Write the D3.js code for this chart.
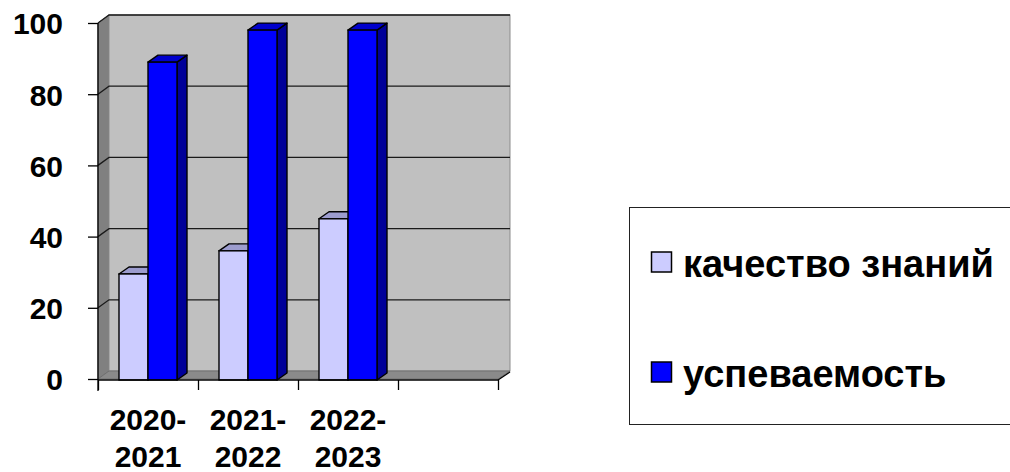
<!doctype html>
<html lang="ru">
<head>
<meta charset="UTF-8">
<title>качество знаний / успеваемость</title>
<script src="https://d3js.org/d3.v7.min.js"></script>
<style>
body { margin: 0; background: #fff; font-family: "Liberation Sans", Arial, sans-serif; }
svg { display: block; }
.axis text { font-family: "Liberation Sans", Arial, sans-serif; font-weight: bold; font-size: 30px; fill: #000; }
.axis line { stroke: #000; stroke-width: 1.3; }
.axis path { display: none; }
</style>
</head>
<body>
<div id="plot"></div>
<script>

// chart data
var categories = ["2020-2021", "2021-2022", "2022-2023", ""];
var catLines = [["2020-", "2021"], ["2021-", "2022"], ["2022-", "2023"], []];
var quality = [29.5, 36, 45];      // качество знаний
var progress = [89, 98, 98];       // успеваемость
var seriesNames = ["качество знаний", "успеваемость"];
var yTicks = [0, 20, 40, 60, 80, 100];

var width = 1010;
var height = 472;

var plotLeft = 98, plotRight = 498, plotBottom = 379, plotTop = 23;
var wdx = 11, wdy = -8;   // depth of the walls
var bdx = 10, bdy = -7;   // depth of the bars

var svg = d3.select("#plot").append("svg")
	.attr("width", width)
	.attr("height", height);

var xScale = d3.scaleBand().domain(categories).range([plotLeft, plotRight]);
var xSeries = d3.scaleBand().domain(seriesNames)
	.range([xScale.bandwidth() * 0.21, xScale.bandwidth() * 0.79]);
var yScale = d3.scaleLinear().domain([0, 100]).range([plotBottom, plotTop]);

var colors = {
	"качество знаний": { front: "#ccccff", top: "#9c9cce", side: "#9999cc" },
	"успеваемость": { front: "#0000ff", top: "#0000cc", side: "#000099" }
};

function poly(pts) {
	return "M" + pts.map(function (p) { return p[0] + "," + p[1]; }).join("L") + "Z";
}

// walls and floor
svg.append("path")
	.attr("d", poly([[plotLeft, yScale(0)], [plotLeft, yScale(100)], [plotLeft + wdx, yScale(100) + wdy], [plotLeft + wdx, yScale(0) + wdy]]))
	.style("fill", "#808080").style("stroke", "#707070");

svg.append("rect")
	.attr("x", plotLeft + wdx)
	.attr("y", yScale(100) + wdy)
	.attr("width", plotRight + wdx + 1 - (plotLeft + wdx))
	.attr("height", yScale(0) - yScale(100))
	.style("fill", "#c0c0c0").style("stroke", "#8c8c8c");

svg.append("path")
	.attr("d", poly([[plotLeft, yScale(0)], [plotRight, yScale(0)], [plotRight + wdx + 1, yScale(0) + wdy], [plotLeft + wdx, yScale(0) + wdy]]))
	.style("fill", "#8a8a8a").style("stroke", "#707070");

// gridlines
yTicks.filter(function (v) { return v > 0; }).forEach(function (v) {
	var y = yScale(v);
	svg.append("path")
		.attr("d", "M" + plotLeft + "," + y + "L" + (plotLeft + wdx) + "," + (y + wdy) + "L" + (plotRight + wdx + 1) + "," + (y + wdy))
		.style("fill", "none").style("stroke", "#1a1a1a").style("stroke-width", 1.3);
});

// bars
var bars = [];
categories.forEach(function (c, i) {
	if (i < quality.length) {
		bars.push({ cat: c, name: seriesNames[0], value: quality[i] });
		bars.push({ cat: c, name: seriesNames[1], value: progress[i] });
	}
});

var barG = svg.selectAll("g.bar").data(bars).enter().append("g").attr("class", "bar");

barG.each(function (d) {
	var g = d3.select(this);
	var x0 = xScale(d.cat) + xSeries(d.name);
	var x1 = x0 + xSeries.bandwidth();
	var y0 = yScale(0) + 1;
	var y1 = yScale(d.value);
	var col = colors[d.name];
	g.append("path")
		.attr("d", poly([[x1, y0], [x1, y1], [x1 + bdx, y1 + bdy], [x1 + bdx, y0 + bdy]]))
		.style("fill", col.side).style("stroke", "#000").style("stroke-width", 1.4).style("stroke-linejoin", "round");
	g.append("path")
		.attr("d", poly([[x0, y1], [x1, y1], [x1 + bdx, y1 + bdy], [x0 + bdx, y1 + bdy]]))
		.style("fill", col.top).style("stroke", "#000").style("stroke-width", 1.4).style("stroke-linejoin", "round");
	g.append("rect")
		.attr("x", x0).attr("y", y1)
		.attr("width", x1 - x0).attr("height", y0 - y1)
		.style("fill", col.front).style("stroke", "#000").style("stroke-width", 1.4);
});

// y axis
var yAxis = d3.axisLeft(yScale).tickValues(yTicks).tickSize(10).tickSizeOuter(0).tickPadding(25);
svg.append("g")
	.attr("class", "axis")
	.attr("transform", "translate(" + plotLeft + ",0)")
	.call(yAxis)
	.selectAll("text").attr("dy", "0.36em");

svg.append("line")
	.attr("x1", plotLeft).attr("x2", plotLeft)
	.attr("y1", yScale(100)).attr("y2", yScale(0) + 12)
	.style("stroke", "#000").style("stroke-width", 1.3);

// x axis: ticks at category boundaries
var xEdges = d3.scaleLinear().domain([0, categories.length]).range([plotLeft, plotRight]);
var xAxis = d3.axisBottom(xEdges).ticks(categories.length).tickFormat("").tickSize(10).tickSizeOuter(0);
svg.append("g")
	.attr("class", "axis")
	.attr("transform", "translate(0," + (yScale(0) + 1) + ")")
	.call(xAxis);

svg.append("line")
	.attr("x1", plotLeft).attr("x2", plotRight)
	.attr("y1", yScale(0) + 1).attr("y2", yScale(0) + 1)
	.style("stroke", "#000").style("stroke-width", 1.3);

svg.append("line")
	.attr("x1", plotRight).attr("x2", plotRight + wdx + 1)
	.attr("y1", yScale(0) + 1).attr("y2", yScale(0) + 1 + wdy)
	.style("stroke", "#000").style("stroke-width", 1.3);

// category labels
var labels = svg.selectAll("text.cat").data(categories).enter().append("text")
	.attr("class", "cat")
	.attr("text-anchor", "middle")
	.style("font-family", "'Liberation Sans', Arial, sans-serif")
	.style("font-weight", "bold")
	.style("font-size", "30px");

labels.each(function (d, i) {
	var t = d3.select(this);
	var cx = xScale(d) + xScale.bandwidth() / 2;
	catLines[i].forEach(function (line, j) {
		t.append("tspan")
			.attr("x", cx)
			.attr("y", 430 + j * 37)
			.text(line);
	});
});

// legend
var legend = svg.append("g");
legend.append("rect")
	.attr("x", 629.5).attr("y", 207.5)
	.attr("width", 420).attr("height", 217)
	.style("fill", "#fff").style("stroke", "#222").style("stroke-width", 1);

var legendY = d3.scaleOrdinal().domain(seriesNames).range([277, 387]);

seriesNames.forEach(function (name) {
	var by = legendY(name);
	legend.append("rect")
		.attr("x", 651.5).attr("y", by - 25)
		.attr("width", 20).attr("height", 20)
		.style("fill", colors[name].front)
		.style("stroke", "#000").style("stroke-width", 1.5);
	legend.append("text")
		.attr("x", 683)
		.attr("y", by)
		.style("font-family", "'Liberation Sans', Arial, sans-serif")
		.style("font-weight", "bold")
		.style("font-size", "38px")
		.text(name);
});

</script>
</body>
</html>
